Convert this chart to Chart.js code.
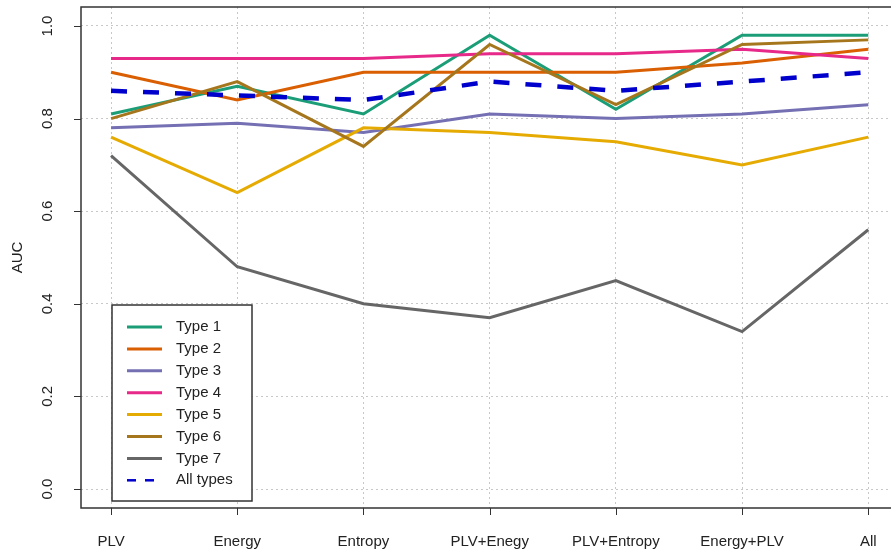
<!DOCTYPE html>
<html>
<head>
<meta charset="utf-8">
<script src="https://cdn.jsdelivr.net/npm/chart.js@4"></script>
<style>
  body { margin: 0; background: #fff; }
  canvas { display: block; }
</style>
</head>
<body>
<canvas id="aucChart" width="891" height="553"></canvas>
<script>
const categories = ["PLV", "Energy", "Entropy", "PLV+Enegy", "PLV+Entropy", "Energy+PLV", "All"];
const type1 = [0.81, 0.87, 0.81, 0.98, 0.82, 0.98, 0.98];
const type2 = [0.90, 0.84, 0.90, 0.90, 0.90, 0.92, 0.95];
const type3 = [0.78, 0.79, 0.77, 0.81, 0.80, 0.81, 0.83];
const type4 = [0.93, 0.93, 0.93, 0.94, 0.94, 0.95, 0.93];
const type5 = [0.76, 0.64, 0.78, 0.77, 0.75, 0.70, 0.76];
const type6 = [0.80, 0.88, 0.74, 0.96, 0.83, 0.96, 0.97];
const type7 = [0.72, 0.48, 0.40, 0.37, 0.45, 0.34, 0.56];
const allTypes = [0.86, 0.85, 0.84, 0.88, 0.86, 0.88, 0.90];
const yTicks = [0, 0.2, 0.4, 0.6, 0.8, 1.0];

const FONT = '15px "Liberation Sans", Arial, sans-serif';

const series = [
  { label: "Type 1", data: type1, color: "#1B9E77" },
  { label: "Type 2", data: type2, color: "#D95F02" },
  { label: "Type 3", data: type3, color: "#7570B3" },
  { label: "Type 4", data: type4, color: "#E7298A" },
  { label: "Type 5", data: type5, color: "#E6AB02" },
  { label: "Type 6", data: type6, color: "#A6761D" },
  { label: "Type 7", data: type7, color: "#666666" },
  { label: "All types", data: allTypes, color: "#0000CD", dash: [16, 16] }
];

/* ===============================
   R-STYLE AXES, BOX AND LEGEND
================================ */
const rStyle = {
  id: "rStyle",
  afterDraw(chart) {
    const ctx = chart.ctx;
    const area = chart.chartArea;
    const xs = chart.scales.x;
    const ys = chart.scales.y;
    ctx.save();

    // box (right edge falls outside the picture)
    ctx.strokeStyle = "#333";
    ctx.lineWidth = 1.5;
    ctx.beginPath();
    ctx.moveTo(area.right + 10, area.top);
    ctx.lineTo(area.left, area.top);
    ctx.lineTo(area.left, area.bottom);
    ctx.lineTo(area.right + 10, area.bottom);
    ctx.stroke();

    // tick marks
    ctx.lineWidth = 1;
    ctx.beginPath();
    categories.forEach((c, i) => {
      const x = Math.round(xs.getPixelForValue(i)) + 0.5;
      ctx.moveTo(x, area.bottom);
      ctx.lineTo(x, area.bottom + 7);
    });
    yTicks.forEach(v => {
      const y = Math.round(ys.getPixelForValue(v)) + 0.5;
      ctx.moveTo(area.left - 7, y);
      ctx.lineTo(area.left, y);
    });
    ctx.stroke();

    // y tick labels, rotated like R
    ctx.fillStyle = "#222";
    ctx.font = FONT;
    ctx.textAlign = "center";
    ctx.textBaseline = "middle";
    yTicks.forEach(v => {
      ctx.save();
      ctx.translate(48, ys.getPixelForValue(v));
      ctx.rotate(-Math.PI / 2);
      ctx.fillText(v.toFixed(1), 0, 0);
      ctx.restore();
    });

    // y axis title
    ctx.save();
    ctx.translate(18, (area.top + area.bottom) / 2);
    ctx.rotate(-Math.PI / 2);
    ctx.fillText("AUC", 0, 0);
    ctx.restore();

    // legend
    const lx = 112, ly = 305, lw = 140, lh = 196;
    ctx.fillStyle = "#fff";
    ctx.fillRect(lx, ly, lw, lh);
    ctx.strokeStyle = "#333";
    ctx.lineWidth = 1.5;
    ctx.strokeRect(lx, ly, lw, lh);
    ctx.textAlign = "left";
    chart.data.datasets.forEach((ds, i) => {
      const y = 327 + i * 21.9;
      const dashed = ds.borderDash && ds.borderDash.length > 0;
      ctx.strokeStyle = ds.borderColor;
      ctx.lineWidth = dashed ? 2.5 : 3;
      ctx.setLineDash(dashed ? [9, 9] : []);
      ctx.beginPath();
      ctx.moveTo(127, y);
      ctx.lineTo(162, y);
      ctx.stroke();
      ctx.setLineDash([]);
      ctx.fillStyle = "#222";
      ctx.fillText(ds.label, 176, y);
    });

    ctx.restore();
  }
};

new Chart(document.getElementById("aucChart"), {
  type: "line",
  data: {
    datasets: series.map((s, i) => ({
      label: s.label,
      data: s.data.map((v, k) => ({ x: k, y: v })),
      borderColor: s.color,
      backgroundColor: s.color,
      borderWidth: s.dash ? 4.5 : 3,
      borderDash: s.dash || [],
      pointRadius: 0,
      tension: 0,
      order: series.length - i
    }))
  },
  options: {
    responsive: false,
    animation: false,
    layout: { padding: { left: 0, top: 7, right: 0, bottom: 0 } },
    plugins: {
      legend: { display: false },
      tooltip: { enabled: false }
    },
    scales: {
      x: {
        type: "linear",
        min: -0.238,
        max: 6.18,
        afterBuildTicks: s => { s.ticks = categories.map((c, i) => ({ value: i })); },
        afterFit: s => { s.height = 45; s.paddingLeft = 0; s.paddingRight = 0; },
        grid: { color: "#c8c8c8", lineWidth: 1, drawTicks: false },
        border: { display: false, dash: [2, 3] },
        ticks: {
          autoSkip: false,
          maxRotation: 0,
          padding: 25,
          color: "#222",
          font: { family: '"Liberation Sans", Arial, sans-serif', size: 15 },
          callback: v => categories[v]
        }
      },
      y: {
        min: -0.041,
        max: 1.041,
        afterBuildTicks: s => { s.ticks = yTicks.map(v => ({ value: v })); },
        afterFit: s => { s.width = 81; s.paddingTop = 0; s.paddingBottom = 0; },
        grid: { color: "#c8c8c8", lineWidth: 1, drawTicks: false },
        border: { display: false, dash: [2, 3] },
        ticks: { display: false }
      }
    }
  },
  plugins: [rStyle]
});
</script>
</body>
</html>
